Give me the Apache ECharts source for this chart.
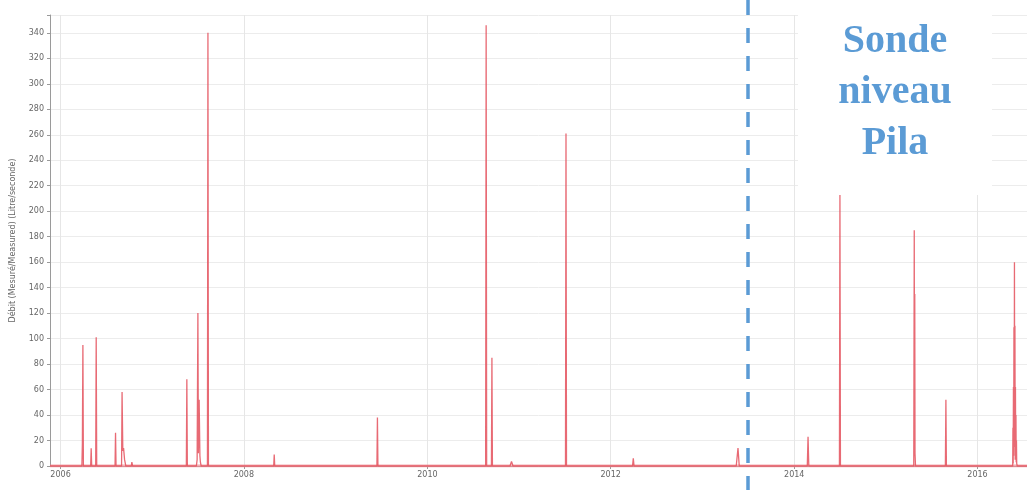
<!DOCTYPE html>
<html>
<head>
<meta charset="utf-8">
<script src="https://cdn.jsdelivr.net/npm/echarts@6/dist/echarts.min.js"></script>
<style>
html,body{margin:0;padding:0;background:#fff;}
#chart{width:1027px;height:490px;}
</style>
</head>
<body>
<div id="chart"></div>
<script>
// Dates of the measurements (flow series)
var dates = [
  '2005-11-20',
  '2006-03-27','2006-03-29','2006-03-31','2006-04-02',
  '2006-05-01','2006-05-03','2006-05-05',
  '2006-05-21','2006-05-23','2006-05-25',
  '2006-08-06','2006-08-08','2006-08-10',
  '2006-09-01','2006-09-03','2006-09-06','2006-09-09','2006-09-13','2006-09-18',
  '2006-10-10','2006-10-12','2006-10-15',
  '2007-05-17','2007-05-19','2007-05-21',
  '2007-06-26','2007-06-29','2007-07-02','2007-07-04','2007-07-07','2007-07-10','2007-07-12','2007-07-15',
  '2007-08-09','2007-08-11','2007-08-13',
  '2008-04-29','2008-05-01','2008-05-03',
  '2009-06-14','2009-06-16','2009-06-18',
  '2010-08-21','2010-08-23','2010-08-25',
  '2010-09-13','2010-09-15','2010-09-17',
  '2010-11-26','2010-12-02','2010-12-08',
  '2011-07-05','2011-07-07','2011-07-09',
  '2011-07-25','2011-07-27','2011-07-30',
  '2012-03-28','2012-03-31','2012-04-03',
  '2013-05-15','2013-05-22','2013-05-27',
  '2014-02-22','2014-02-25','2014-02-28',
  '2014-06-30','2014-07-02','2014-07-04',
  '2015-04-22','2015-04-24','2015-04-25','2015-04-26','2015-04-27','2015-04-29',
  '2015-08-26','2015-08-28','2015-08-30',
  '2016-05-20','2016-05-21','2016-05-22','2016-05-23','2016-05-24','2016-05-25','2016-05-26',
  '2016-05-27','2016-05-28','2016-05-29','2016-05-30','2016-05-31','2016-06-01','2016-06-02',
  '2016-06-03','2016-06-04','2016-06-05','2016-06-07',
  '2016-07-16'
];
// Flow values (l/s)
var flows = [
  0,
  0,18,95,0,
  0,14,0,
  0,101,0,
  0,26,0,
  0,58,12,14,5,0,
  0,3,0,
  0,68,0,
  0,5,120,10,52,8,3,0,
  0,340,0,
  0,9,0,
  0,38,0,
  0,346,0,
  0,85,0,
  0,3.5,0,
  0,261,0,
  0,1.5,0,
  0,6,0,
  0,14,0,
  0,23,0,
  0,213,0,
  0,185,20,135,10,0,
  0,52,0,
  0,30,2,62,8,109,15,
  160,25,110,5,62,10,40,
  3,20,2,0,
  0
];
var yearTicks = ['2006-01-01','2008-01-01','2010-01-01','2012-01-01','2014-01-01','2016-01-01'];
var yMin = 0, yMax = 354, yStep = 20;
var xMin = '2005-11-20', xMax = '2016-07-16';
var axisTitle = 'Débit (Mesuré/Measured) (Litre/seconde)';
var noteLines = ['Sonde', 'niveau', 'Pila'];

function ts(s){ var p = s.split('-'); return new Date(+p[0], +p[1]-1, +p[2]).getTime(); }
var seriesData = dates.map(function(d, i){ return [ts(d), flows[i]]; });
var tickVals = yearTicks.map(ts);

var chart = echarts.init(document.getElementById('chart'));
chart.setOption({
  animation: false,
  backgroundColor: '#fff',
  grid: { left: 50, right: 0, top: 15, bottom: 24 },
  xAxis: {
    type: 'value',
    min: ts(xMin), max: ts(xMax),
    axisLine: { show: true, onZero: false, lineStyle: { color: '#9a9a9a', width: 1 } },
    axisTick: { show: true, customValues: tickVals, length: 3, lineStyle: { color: '#9a9a9a' } },
    axisLabel: {
      customValues: tickVals,
      showMinLabel: true, showMaxLabel: true,
      color: '#666', fontSize: 8, fontFamily: 'DejaVu Sans', margin: 5,
      formatter: function(v){ return String(new Date(v).getFullYear()); }
    },
    splitLine: { show: true, lineStyle: { color: '#e6e6e6', width: 1 } }
  },
  yAxis: {
    type: 'value',
    min: yMin, max: yMax, interval: yStep,
    name: axisTitle,
    nameLocation: 'middle',
    nameGap: 33,
    nameTextStyle: { color: '#666', fontSize: 8, fontFamily: 'DejaVu Sans' },
    axisLine: { show: true, lineStyle: { color: '#9a9a9a', width: 1 } },
    axisTick: { show: true, length: 3, lineStyle: { color: '#9a9a9a' } },
    axisLabel: {
      color: '#666', fontSize: 8, fontFamily: 'DejaVu Sans', margin: 6,
      formatter: function(v){ return (v % yStep === 0) ? String(v) : ''; }
    },
    splitLine: { show: true, lineStyle: { color: '#ececec', width: 1 } }
  },
  series: [{
    type: 'line',
    data: seriesData,
    showSymbol: false,
    symbol: 'none',
    lineStyle: { color: '#e4505c', width: 1.3, opacity: 0.85 },
    z: 3
  }, {
    type: 'line',
    data: [[ts(xMin), 0], [ts(xMax), 0]],
    symbol: 'none',
    silent: true,
    lineStyle: { color: '#f08a92', width: 3, opacity: 0.7 },
    z: 2
  }],
  graphic: [
    {
      type: 'rect',
      shape: { x: 798, y: 0, width: 194, height: 195 },
      style: { fill: '#ffffff' },
      z: 100
    },
    {
      type: 'text',
      x: 895, y: 93,
      style: {
        text: noteLines.join('\n'),
        fill: '#5b9bd5',
        font: 'bold 40px "Liberation Serif", "DejaVu Serif", serif',
        lineHeight: 51,
        align: 'center',
        verticalAlign: 'middle'
      },
      z: 101
    },
    {
      type: 'line',
      shape: { x1: 748, y1: 0, x2: 748, y2: 490 },
      style: { stroke: '#5b9bd5', lineWidth: 3.5, lineDash: [15, 13] },
      z: 102
    }
  ]
});
</script>
</body>
</html>
